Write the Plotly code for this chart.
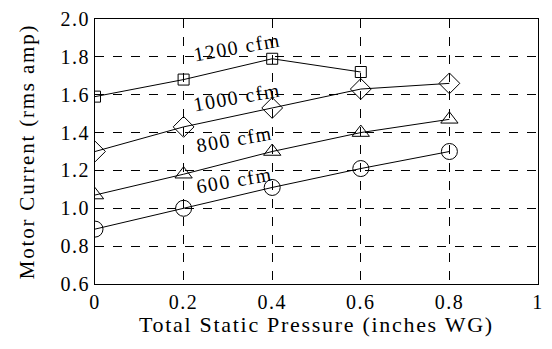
import plotly.graph_objects as go

# Total static pressure (inches WG)
pressure = [0.0, 0.2, 0.4, 0.6, 0.8]

# Motor current (rms amp) for each airflow setting
current_1200 = [1.59, 1.68, 1.79, 1.72]
current_1000 = [1.30, 1.43, 1.53, 1.63, 1.66]
current_800 = [1.07, 1.18, 1.30, 1.40, 1.47]
current_600 = [0.89, 1.00, 1.11, 1.21, 1.30]

x_ticks = [0, 0.2, 0.4, 0.6, 0.8, 1]
x_tick_text = ["0", "0.2", "0.4", "0.6", "0.8", "1"]
y_ticks = [0.6, 0.8, 1.0, 1.2, 1.4, 1.6, 1.8, 2.0]
y_tick_text = ["0.6", "0.8", "1.0", "1.2", "1.4", "1.6", "1.8", "2.0"]

series = [
    ("1200 cfm", current_1200, "square-open", 11, (0.32, 1.852)),
    ("1000 cfm", current_1000, "diamond-open", 16, (0.32, 1.586)),
    ("800 cfm", current_800, "triangle-up-open", 15, (0.315, 1.367)),
    ("600 cfm", current_600, "circle-open", 16, (0.315, 1.148)),
]

FONT = "'Liberation Serif', 'Times New Roman', serif"
WIDTH, HEIGHT = 552, 349
MARGIN = dict(l=95, r=8, t=16, b=65)


def spaced(text, px):
    return f'<span style="letter-spacing:{px}px">{text}</span>'


fig = go.Figure()
for name, vals, symbol, size, (lx, ly) in series:
    fig.add_trace(go.Scatter(
        x=pressure[:len(vals)], y=vals, mode="lines+markers", name=name,
        line=dict(color="black", width=1),
        marker=dict(symbol=symbol, size=size, color="black",
                    line=dict(color="black", width=1)),
        showlegend=False,
    ))
    fig.add_annotation(x=lx, y=ly, text=spaced(name, 1.5), showarrow=False,
                       textangle=-10,
                       font=dict(family=FONT, size=20, color="black"))

# x-axis title placed at a fixed pixel offset under the plot area
plot_h = HEIGHT - MARGIN["t"] - MARGIN["b"]
fig.add_annotation(x=0.5, xref="x domain", y=-41 / plot_h, yref="paper",
                   text=spaced("Total Static Pressure (inches WG)", 1.7),
                   showarrow=False, xanchor="center", yanchor="middle",
                   font=dict(family=FONT, size=22, color="black"))

axis_common = dict(
    showline=True, linecolor="black", linewidth=1, mirror=True,
    showgrid=True, gridcolor="black", gridwidth=1, griddash="dash",
    zeroline=False, ticks="",
)

fig.update_xaxes(range=[0, 1], tickvals=x_ticks,
                 ticktext=[spaced(t, 1.5) for t in x_tick_text],
                 tickfont=dict(family=FONT, size=20, color="black"),
                 **axis_common)
fig.update_yaxes(range=[0.6, 2.0], tickvals=y_ticks,
                 ticktext=[spaced(t, 1.5) for t in y_tick_text],
                 tickfont=dict(family=FONT, size=20, color="black"),
                 title=dict(text=spaced("Motor Current (rms amp)", 1.8),
                            font=dict(family=FONT, size=21, color="black"),
                            standoff=20),
                 **axis_common)

fig.update_layout(
    width=WIDTH, height=HEIGHT,
    margin=MARGIN,
    paper_bgcolor="white", plot_bgcolor="white",
    font=dict(family=FONT, color="black"),
)

fig.write_html("out.html")
